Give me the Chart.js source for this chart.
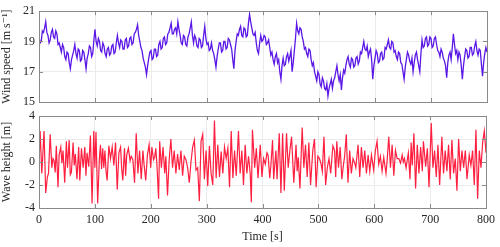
<!DOCTYPE html>
<html>
<head>
<meta charset="utf-8">
<script src="https://cdn.jsdelivr.net/npm/chart.js@4"></script>
<style>
  html, body { margin: 0; padding: 0; background: #fff; }
  #wrap { position: relative; width: 500px; height: 247px; }
  #wrap canvas { position: absolute; left: 0; top: 0; }
</style>
</head>
<body>
<div id="wrap">
  <canvas id="windChart" width="500" height="247"></canvas>
  <canvas id="waveChart" width="500" height="247"></canvas>
</div>
<script>
// wind speed, one reading every 2 s from 0 to 800 s (20 values per row = 40 s)
const windStep = 2;
const windSpeed = [
  19.3, 18.9, 19.0, 19.7, 19.6, 19.9, 20.3, 19.6, 19.4, 18.9, 19.1, 19.6, 19.8, 19.3, 19.2, 19.7, 19.5, 18.8, 18.9, 18.6,
  18.3, 18.8, 18.6, 18.0, 17.8, 18.3, 18.2, 17.6, 17.2, 17.8, 18.1, 18.4, 18.8, 18.2, 17.9, 18.5, 18.4, 17.7, 17.8, 18.4,
  18.3, 17.8, 17.2, 17.9, 18.2, 18.7, 18.6, 18.0, 18.2, 19.1, 19.8, 19.0, 18.7, 19.2, 19.0, 18.4, 18.3, 18.9, 18.7, 18.2,
  18.0, 18.5, 18.6, 18.1, 18.2, 18.7, 18.8, 18.2, 18.3, 18.9, 19.4, 18.9, 18.6, 19.1, 19.0, 18.5, 18.5, 19.1, 19.2, 18.6,
  18.7, 19.2, 19.3, 18.8, 18.9, 19.5, 19.6, 19.8, 20.1, 19.4, 19.0, 18.6, 18.4, 17.9, 17.6, 17.3, 16.8, 17.4, 17.9, 18.3,
  18.4, 17.8, 17.9, 18.5, 18.5, 18.0, 18.1, 18.8, 19.0, 18.5, 18.6, 19.2, 19.3, 18.8, 18.9, 19.5, 19.6, 19.9, 20.2, 19.5,
  19.5, 19.8, 19.9, 19.5, 20.3, 19.8, 19.4, 18.9, 18.8, 19.4, 19.3, 18.8, 18.7, 19.3, 19.5, 19.9, 20.3, 19.4, 18.9, 19.4,
  19.2, 18.7, 18.6, 19.2, 19.1, 18.6, 18.7, 19.4, 20.0, 19.2, 18.8, 18.9, 18.4, 18.5, 18.9, 18.4, 18.2, 17.8, 17.3, 18.0,
  18.5, 18.9, 18.9, 18.3, 18.4, 19.0, 19.0, 18.5, 18.6, 19.2, 19.1, 18.8, 18.5, 17.8, 17.2, 18.4, 19.0, 19.5, 19.4, 19.8,
  20.0, 19.4, 19.3, 19.9, 19.8, 19.3, 19.4, 20.2, 20.8, 20.3, 19.9, 19.5, 19.4, 19.6, 18.9, 18.4, 18.2, 18.9, 19.4, 19.0,
  19.1, 19.4, 19.3, 18.8, 18.9, 19.1, 18.6, 18.1, 18.3, 17.8, 17.5, 18.0, 18.2, 17.6, 17.8, 17.0, 16.5, 17.4, 17.9, 17.4,
  17.5, 18.0, 18.2, 17.7, 18.0, 18.4, 17.0, 17.6, 18.4, 19.2, 20.2, 19.7, 19.5, 19.9, 19.8, 19.3, 19.0, 18.5, 18.6, 18.2,
  18.0, 18.5, 18.4, 17.8, 17.4, 17.6, 17.0, 16.7, 16.4, 17.0, 16.8, 16.2, 16.0, 16.6, 16.4, 15.9, 15.8, 16.2, 15.4, 15.9,
  16.2, 16.5, 15.9, 16.4, 16.6, 17.0, 17.4, 16.8, 16.4, 16.8, 15.8, 16.6, 17.1, 16.9, 17.4, 17.8, 18.0, 17.5, 17.3, 17.9,
  17.8, 17.3, 17.4, 17.9, 18.0, 17.5, 17.7, 18.3, 18.2, 18.6, 19.0, 18.5, 18.4, 18.7, 18.0, 18.3, 18.5, 17.8, 16.5, 17.4,
  17.9, 18.4, 18.2, 17.6, 17.7, 18.2, 18.3, 17.8, 17.9, 18.6, 18.5, 18.8, 19.1, 18.6, 18.5, 19.0, 18.9, 18.3, 18.4, 18.0,
  17.8, 18.3, 18.2, 17.6, 17.5, 17.0, 16.5, 17.3, 17.8, 18.3, 18.1, 17.7, 17.5, 17.9, 17.0, 17.6, 18.1, 18.3, 17.8, 17.4,
  17.0, 18.2, 19.1, 18.6, 18.7, 19.2, 19.3, 18.7, 18.8, 19.3, 19.2, 18.6, 18.7, 19.2, 19.3, 18.8, 18.4, 18.3, 18.0, 18.5,
  18.3, 17.9, 17.7, 17.4, 16.6, 17.6, 18.1, 18.3, 17.8, 18.6, 19.5, 18.8, 18.2, 18.4, 17.8, 18.3, 18.1, 17.4, 16.5, 17.4,
  18.0, 18.5, 18.4, 17.9, 18.0, 18.6, 18.6, 18.1, 18.2, 18.7, 19.0, 18.4, 18.1, 18.5, 18.4, 17.5, 16.7, 17.6, 18.2, 18.6,
  18.3
];

// wave height readings (time in s, height in m)
const waveTime = [
  0, 2, 5, 9, 12, 15, 17, 20, 23, 25,
  27, 29, 31, 34, 36, 39, 41, 43, 46, 49,
  51, 54, 56, 58, 61, 63, 65, 68, 71, 73,
  76, 79, 82, 84, 86, 89, 92, 95, 98, 100,
  102, 105, 108, 110, 112, 114, 116, 118, 120, 122,
  125, 128, 131, 134, 137, 140, 143, 146, 148, 150,
  153, 155, 157, 160, 163, 165, 168, 171, 174, 177,
  180, 183, 186, 188, 191, 194, 197, 200, 202, 205,
  207, 209, 211, 214, 216, 219, 222, 225, 227, 230,
  233, 236, 239, 242, 245, 248, 251, 254, 257, 260,
  263, 266, 269, 272, 275, 278, 281, 284, 287, 290,
  293, 296, 299, 302, 305, 308, 311, 314, 317, 320,
  323, 326, 329, 332, 335, 338, 341, 344, 347, 350,
  353, 357, 360, 363, 366, 369, 372, 375, 378, 380,
  382, 386, 389, 392, 396, 399, 402, 405, 408, 410,
  413, 415, 418, 420, 424, 426, 430, 433, 436, 439,
  443, 446, 449, 452, 456, 460, 462, 464, 467, 471,
  474, 477, 480, 483, 486, 490, 493, 496, 499, 502,
  505, 507, 510, 513, 516, 519, 522, 526, 529, 531,
  533, 536, 539, 542, 545, 547, 550, 553, 556, 559,
  562, 565, 567, 571, 574, 577, 580, 583, 586, 589,
  592, 595, 599, 602, 605, 608, 611, 614, 617, 621,
  623, 626, 629, 632, 635, 638, 641, 644, 647, 650,
  652, 654, 657, 661, 664, 666, 668, 671, 674, 677,
  680, 683, 686, 688, 692, 695, 698, 702, 705, 708,
  711, 714, 717, 721, 724, 727, 730, 733, 736, 739,
  742, 745, 748, 751, 754, 757, 760, 763, 766, 770,
  773, 776, 779, 782, 785, 788, 791, 794, 797, 800
];
const waveHeight = [
  -0.3, 2.7, -1.0, 2.7, -2.7, -1.3, -1.0, 2.4, -0.5, 0.3,
  0.1, -0.9, 1.4, -2.2, 0.6, 1.3, -0.1, 1.0, -1.8, 1.8,
  -0.5, 1.9, -1.1, -0.9, 1.7, -0.3, 0.7, -1.5, 1.3, -1.6,
  1.2, -0.5, 1.3, -1.2, 0.8, -0.4, 2.3, -3.6, 2.7, -0.5,
  2.6, -3.6, 0.2, 1.5, -0.6, 1.2, -0.5, 1.0, -0.8, -1.6,
  1.4, 0.3, 1.3, -0.3, 1.7, -2.4, 0.8, 1.3, -0.6, -1.6,
  1.2, -1.2, 0.6, 1.2, 0.1, 0.5, 0.2, -1.8, 2.5, -1.0,
  1.0, -1.5, 1.0, -0.2, -1.6, 0.6, 1.5, -0.5, 1.3, 0.2,
  0.4, 1.2, -0.2, -3.2, 1.8, -0.5, 1.3, -1.0, 0.5, -2.9,
  0.2, 2.0, -0.5, 1.0, -1.0, 0.7, -0.7, 1.0, -1.2, 0.5,
  0.2, -0.5, -1.8, 0.0, 1.3, 1.9, -0.7, -0.5, -3.4, 1.8,
  2.4, -1.5, 1.0, -2.1, 1.4, -1.0, -2.0, 3.6, -1.4, 1.5,
  -1.3, 0.9, -1.0, 1.3, 0.3, 1.2, -2.2, 2.7, -1.4, 1.0,
  -1.2, 2.7, -1.0, 1.0, -2.0, 1.5, -1.0, 0.5, -1.0, -3.5,
  2.8, -0.5, 1.2, -1.4, 1.5, -1.3, 0.3, -0.2, 0.8, 0.6,
  -1.4, -0.3, 1.9, -1.5, 1.0, -1.5, 2.5, -2.7, 2.5, -2.5,
  2.5, -0.5, 1.0, 2.2, -1.8, 1.5, -0.8, 0.4, -2.3, 3.0,
  -0.5, 1.5, -1.3, 1.7, -2.0, 1.0, 2.0, -2.2, 0.5, 0.3,
  -0.2, -0.8, 2.2, -2.0, -0.5, 0.3, -1.0, 1.4, 1.0, -1.3,
  1.8, -0.5, 1.3, -1.5, -0.2, 0.5, 2.4, -1.8, 1.0, -1.0,
  0.3, -0.1, -0.5, 1.5, -1.3, 1.3, -0.5, 1.0, -1.0, 0.6,
  -0.8, 0.6, -0.7, 1.0, 1.8, -0.2, 0.5, -0.8, 0.4, -1.0,
  0.1, 2.2, -0.5, 1.5, -1.2, 1.0, 0.3, 0.3, -0.1, 0.6,
  0.0, 0.3, -0.5, 0.8, -1.5, 1.7, -0.3, 2.5, -2.3, 1.5,
  -1.0, 1.3, -0.8, 1.8, -0.4, 1.2, -2.2, 3.4, -0.5, 1.0,
  -1.3, 1.5, -2.0, 2.2, -1.0, 1.0, -0.8, 1.5, -1.5, 1.9,
  -1.0, 0.3, -2.5, 2.0, -0.8, 1.0, -0.5, 1.0, -1.5, 0.6,
  -0.3, 1.0, -2.0, 2.8, -3.2, 1.0, -0.5, 1.7, 2.7, 0.8
];

const timeTicks = [0, 100, 200, 300, 400, 500, 600, 700, 800];
const windTicks = [15, 17, 19, 21];
const waveTicks = [-4, -2, 0, 2, 4];

const FONT = "'Liberation Serif', 'DejaVu Serif', serif";
const axisGrey = '#8a8a8a';
const gridGrey = '#ebebeb';
const textColor = '#262626';

Chart.defaults.font.family = FONT;
Chart.defaults.font.size = 12;
Chart.defaults.color = textColor;

// box around the plot area plus little inward ticks, matlab style
const boxPlugin = {
    id: 'boxPlugin',
    afterDraw(chart) {
        const { ctx, chartArea: a, scales } = chart;
        ctx.save();
        ctx.strokeStyle = axisGrey;
        ctx.lineWidth = 1;
        ctx.beginPath();
        scales.x.ticks.forEach(t => {
            const px = Math.round(scales.x.getPixelForValue(t.value)) + 0.5;
            ctx.moveTo(px, a.top); ctx.lineTo(px, a.top + 4);
            ctx.moveTo(px, a.bottom); ctx.lineTo(px, a.bottom - 4);
        });
        scales.y.ticks.forEach(t => {
            const py = Math.round(scales.y.getPixelForValue(t.value)) + 0.5;
            ctx.moveTo(a.left, py); ctx.lineTo(a.left + 4, py);
            ctx.moveTo(a.right, py); ctx.lineTo(a.right - 4, py);
        });
        ctx.stroke();
        ctx.strokeRect(Math.round(a.left) + 0.5, Math.round(a.top) + 0.5,
            Math.round(a.right - a.left), Math.round(a.bottom - a.top));
        ctx.restore();
    }
};

function makeChart(id, points, color, width, yMin, yMax, yTicks, yTitle, padding, showX) {
    return new Chart(document.getElementById(id), {
        type: 'line',
        data: {
            datasets: [{
                data: points,
                borderColor: color,
                borderWidth: width,
                pointRadius: 0,
                tension: 0,
                fill: false
            }]
        },
        options: {
            responsive: false,
            animation: false,
            events: [],
            layout: { padding: padding },
            plugins: { legend: { display: false }, tooltip: { enabled: false } },
            scales: {
                x: {
                    type: 'linear',
                    min: 0, max: 800,
                    afterBuildTicks: s => { s.ticks = timeTicks.map(v => ({ value: v })); },
                    afterFit: s => { s.height = showX ? 39 : 0; },
                    ticks: { display: showX, padding: 5, maxRotation: 0 },
                    grid: { color: gridGrey, drawTicks: false },
                    border: { display: false },
                    title: { display: showX, text: 'Time [s]', padding: { top: 0, bottom: 3 } }
                },
                y: {
                    min: yMin, max: yMax,
                    afterBuildTicks: s => { s.ticks = yTicks.map(v => ({ value: v })); },
                    afterFit: s => { s.width = 39; },
                    ticks: { padding: 4 },
                    grid: { color: gridGrey, drawTicks: false },
                    border: { display: false },
                    title: { display: true, text: yTitle, padding: { top: 0, bottom: 2 } }
                }
            }
        },
        plugins: [boxPlugin]
    });
}

const windPoints = windSpeed.map((v, i) => ({ x: i * windStep, y: v }));
const wavePoints = waveHeight.map((v, i) => ({ x: waveTime[i], y: v }));

makeChart('windChart', windPoints, '#5a17e6', 1.3, 15, 21, windTicks,
    'Wind speed [m s\u207B\u00B9]', { left: 0, right: 13, top: 9, bottom: 145 }, false);
makeChart('waveChart', wavePoints, '#ff1f40', 1.2, -4, 4, waveTicks,
    'Wave height [m]', { left: 0, right: 13, top: 116, bottom: 0 }, true);
</script>
</body>
</html>
